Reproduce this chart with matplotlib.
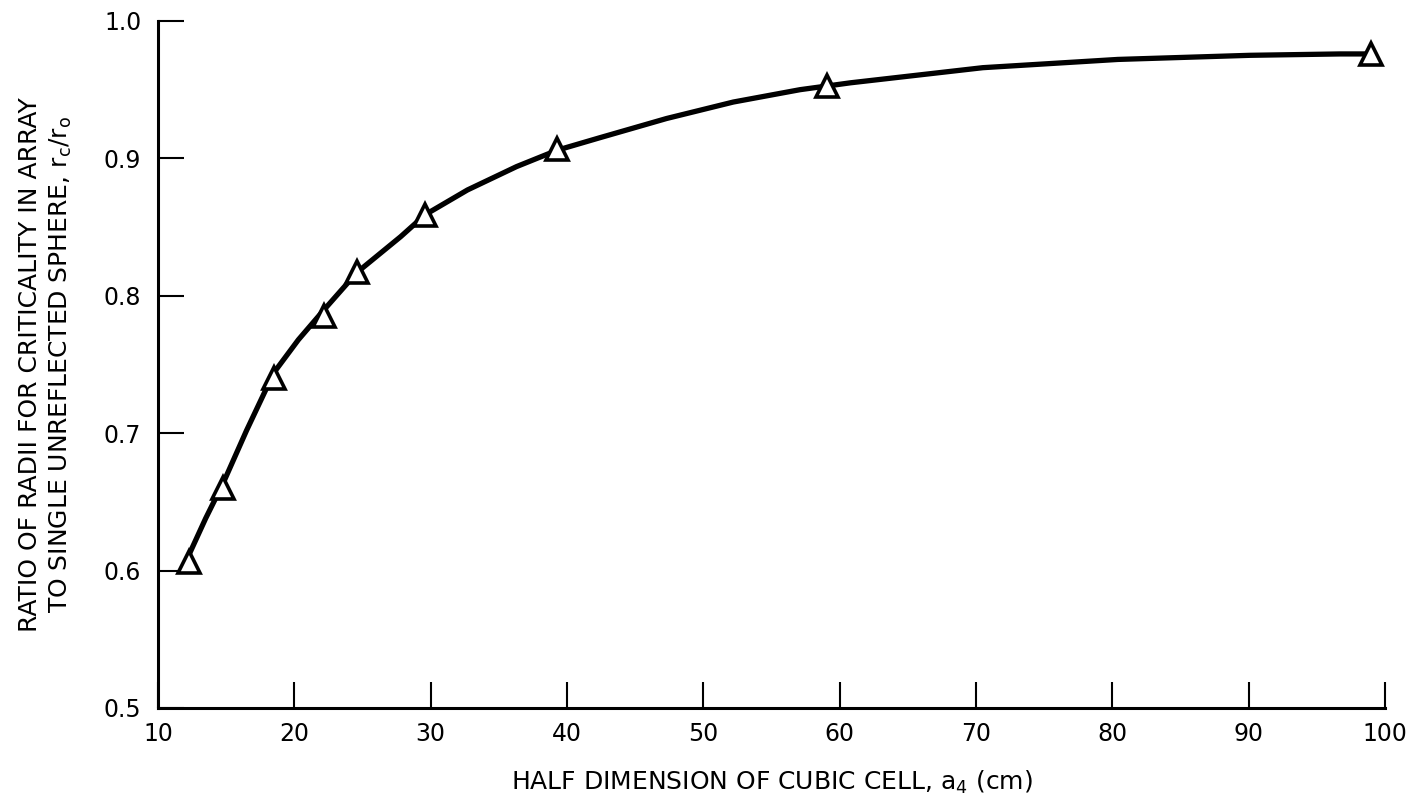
import matplotlib
matplotlib.use("Agg")
import matplotlib.pyplot as plt

# data
cell_half_dim = [12.3, 14.8, 18.5, 22.2, 24.6, 29.6, 39.3, 59.1, 99.0]
radius_ratio = [0.606, 0.660, 0.740, 0.785, 0.817, 0.859, 0.907, 0.953, 0.976]

# hand-drawn faired curve
curve_x = [12.3, 13.5, 14.8, 16.5, 18.5, 20.3, 22.2, 24.6, 27.8, 29.6, 32.7, 36.3,
           39.3, 42.4, 47.3, 52.2, 57.1, 60.8, 70.5, 80.4, 90.1, 96.7, 99.0]
curve_y = [0.612, 0.638, 0.664, 0.702, 0.744, 0.768, 0.790, 0.817, 0.843, 0.859, 0.877, 0.894,
           0.906, 0.915, 0.929, 0.941, 0.950, 0.955, 0.966, 0.972, 0.975, 0.976, 0.976]

x_ticks = [10, 20, 30, 40, 50, 60, 70, 80, 90, 100]
y_ticks = [0.5, 0.6, 0.7, 0.8, 0.9, 1.0]

plt.rcParams['font.family'] = ['DejaVu Sans']
plt.rcParams['mathtext.default'] = 'regular'

fig = plt.figure(figsize=(14.09, 7.97), dpi=100)
ax = fig.add_axes([0.1121, 0.1117, 0.8709, 0.862])

ax.plot(curve_x, curve_y, color='black', lw=3.8, solid_capstyle='round',
        solid_joinstyle='round', zorder=2)
ax.plot(cell_half_dim, radius_ratio, ls='none', marker='^', ms=16,
        mfc='white', mec='black', mew=2.6, zorder=3)

ax.set_xlim(10, 100)
ax.set_ylim(0.5, 1.0)
ax.set_xticks(x_ticks)
ax.set_yticks(y_ticks)
ax.set_xticklabels([str(t) for t in x_ticks])
ax.set_yticklabels(['0.5', '0.6', '0.7', '0.8', '0.9', '1.0'])

for s in ['top', 'right']:
    ax.spines[s].set_visible(False)
for s in ['left', 'bottom']:
    ax.spines[s].set_linewidth(2.2)

ax.tick_params(axis='x', direction='in', length=19, width=1.5, pad=10, labelsize=17)
ax.tick_params(axis='y', direction='in', length=19, width=1.5, pad=12, labelsize=17)

ax.set_xlabel("HALF DIMENSION OF CUBIC CELL, $a_4$ (cm)", fontsize=18)
ax.xaxis.set_label_coords(0.5, -0.088)

ax.set_ylabel("RATIO OF RADII FOR CRITICALITY IN ARRAY\nTO SINGLE UNREFLECTED SPHERE, $r_c/r_o$",
              fontsize=18, linespacing=1.3, ha='center', va='center')
ax.yaxis.set_label_coords(-0.091, 0.5)

fig.savefig("out.png", dpi=100)
